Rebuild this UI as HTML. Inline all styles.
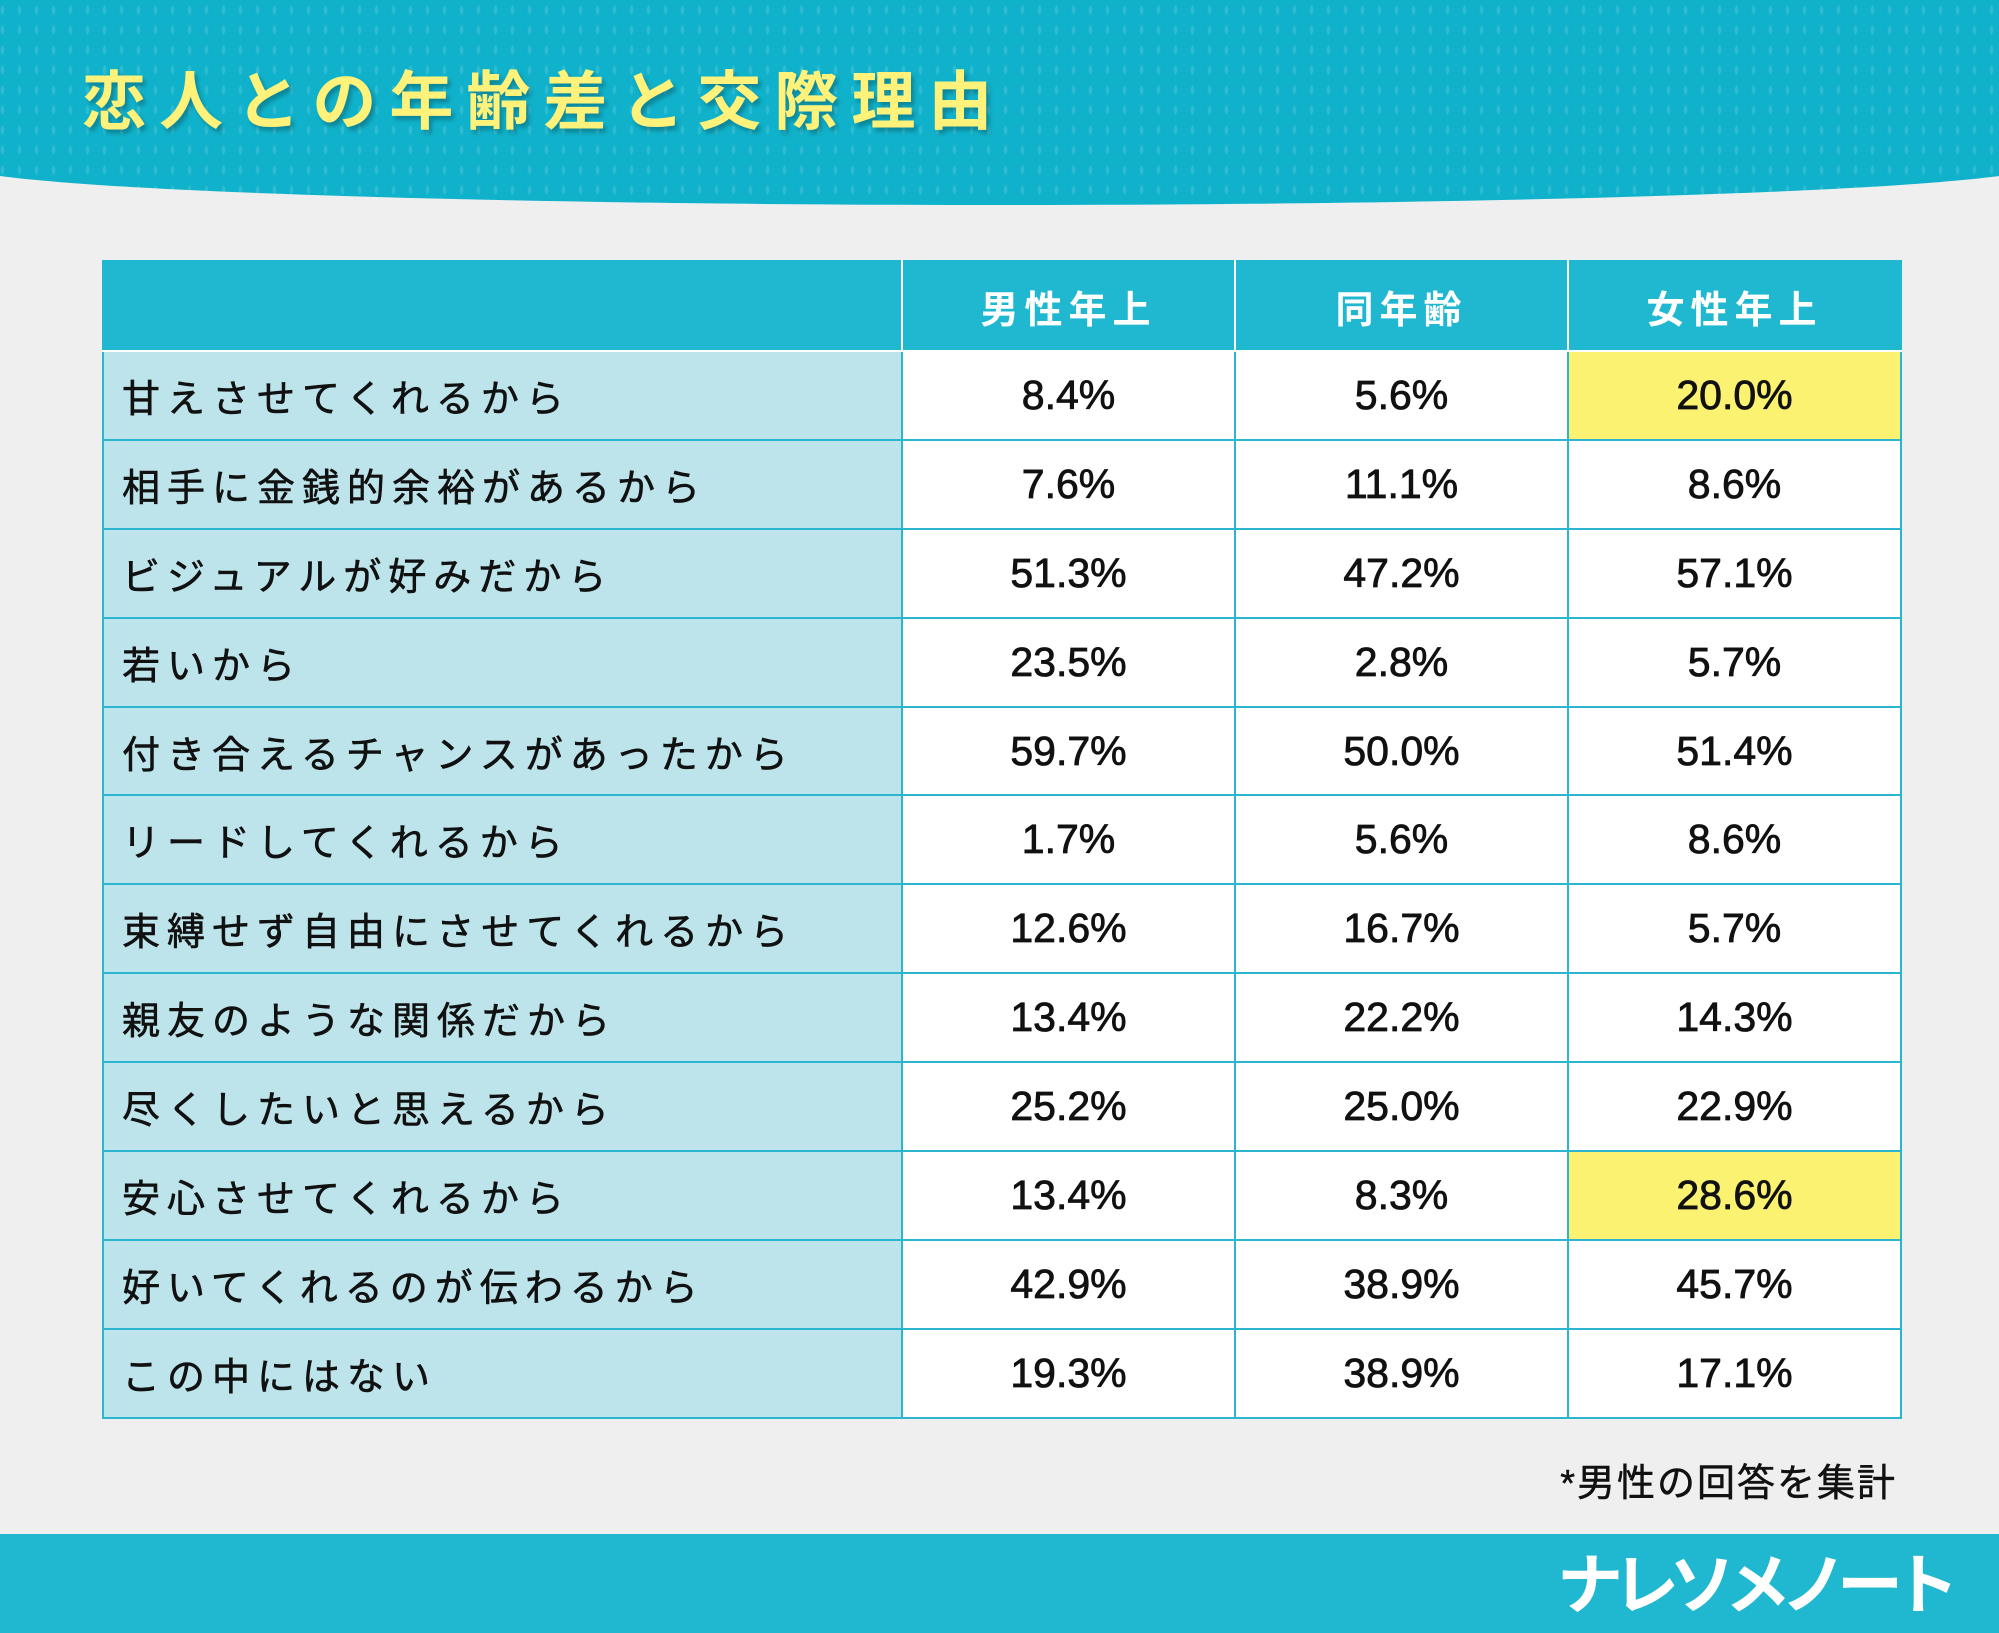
<!DOCTYPE html>
<html><head><meta charset="utf-8"><style>
*{margin:0;padding:0;box-sizing:border-box}
body{width:1999px;height:1633px;background:#efefef;position:relative;overflow:hidden;font-family:"Liberation Sans","Noto Sans CJK JP",sans-serif}
.hdr{position:absolute;left:-40px;top:-300px;width:2079px;height:505px;background:#10b2cb;border-radius:0 0 50% 50% / 0 0 40px 40px;
background-image:radial-gradient(ellipse 2px 5px,rgba(255,255,255,0.12) 80%,transparent 100%);background-size:17px 20px}
.title{position:absolute;left:82px;top:62px;font-size:64px;font-weight:bold;color:#fff27a;letter-spacing:13px;text-shadow:3px 4px 4px rgba(0,0,0,0.25);line-height:80px}
table{position:absolute;left:102px;top:260px;border-collapse:collapse;table-layout:fixed}
td{border:2px solid #2bb5cf;height:88.9px;font-size:38px;text-align:center;color:#111;font-weight:bold}
tr.h td{height:90px;background:#1fb8d0;color:#fff;letter-spacing:6px;border-color:#fff;border-top-color:#1fb8d0}
tr.h td:first-child{border-left-color:#1fb8d0}
tr.h td:last-child{border-right-color:#1fb8d0}
td.l{background:#bde4eb;text-align:left;padding-left:18px;letter-spacing:7px;font-weight:normal;-webkit-text-stroke:0.6px #111}
td.v{background:#fff;font-weight:normal;font-size:41px;-webkit-text-stroke:0.8px #111}
td.y{background:#fcf272}
.note{position:absolute;right:102px;top:1452px;font-size:38px;color:#111;letter-spacing:2px;-webkit-text-stroke:0.5px #111}
.ftr{position:absolute;left:0;top:1534px;width:1999px;height:99px;background:#1fb8d0}
.logo{position:absolute;right:50px;top:1545px;font-size:66px;font-weight:bold;color:#fff;letter-spacing:-10px;line-height:80px}
</style></head><body>
<div class="hdr"></div>
<div class="title">恋人との年齢差と交際理由</div>
<table>
<colgroup><col style="width:799px"><col style="width:333px"><col style="width:333px"><col style="width:333px"></colgroup>
<tr class="h"><td></td><td>男性年上</td><td>同年齢</td><td>女性年上</td></tr>
<tr><td class="l">甘えさせてくれるから</td><td class="v">8.4%</td><td class="v">5.6%</td><td class="v y">20.0%</td></tr>
<tr><td class="l">相手に金銭的余裕があるから</td><td class="v">7.6%</td><td class="v">11.1%</td><td class="v">8.6%</td></tr>
<tr><td class="l">ビジュアルが好みだから</td><td class="v">51.3%</td><td class="v">47.2%</td><td class="v">57.1%</td></tr>
<tr><td class="l">若いから</td><td class="v">23.5%</td><td class="v">2.8%</td><td class="v">5.7%</td></tr>
<tr><td class="l">付き合えるチャンスがあったから</td><td class="v">59.7%</td><td class="v">50.0%</td><td class="v">51.4%</td></tr>
<tr><td class="l">リードしてくれるから</td><td class="v">1.7%</td><td class="v">5.6%</td><td class="v">8.6%</td></tr>
<tr><td class="l">束縛せず自由にさせてくれるから</td><td class="v">12.6%</td><td class="v">16.7%</td><td class="v">5.7%</td></tr>
<tr><td class="l">親友のような関係だから</td><td class="v">13.4%</td><td class="v">22.2%</td><td class="v">14.3%</td></tr>
<tr><td class="l">尽くしたいと思えるから</td><td class="v">25.2%</td><td class="v">25.0%</td><td class="v">22.9%</td></tr>
<tr><td class="l">安心させてくれるから</td><td class="v">13.4%</td><td class="v">8.3%</td><td class="v y">28.6%</td></tr>
<tr><td class="l">好いてくれるのが伝わるから</td><td class="v">42.9%</td><td class="v">38.9%</td><td class="v">45.7%</td></tr>
<tr><td class="l">この中にはない</td><td class="v">19.3%</td><td class="v">38.9%</td><td class="v">17.1%</td></tr>
</table>
<div class="note">*男性の回答を集計</div>
<div class="ftr"></div>
<div class="logo">ナレソメノート</div>
</body></html>
